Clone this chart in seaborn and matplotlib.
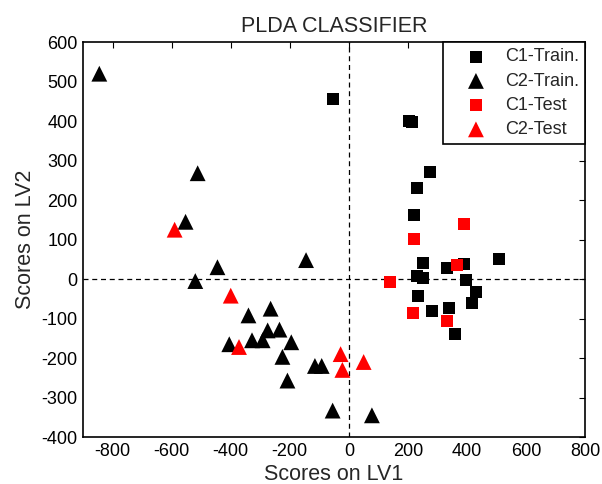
import matplotlib
matplotlib.use("Agg")
import matplotlib.pyplot as plt
import seaborn as sns
import pandas as pd

c1_train_x = [-55, 205, 213, 275, 230, 222, 250, 232, 252, 331, 390, 395, 430, 418, 233, 282, 340, 358, 507]
c1_train_y = [455, 400, 397, 270, 230, 163, 40, 8, 2, 27, 38, -3, -32, -60, -42, -80, -74, -139, 52]
c2_train_x = [-845, -512, -553, -445, -520, -145, -340, -265, -275, -235, -405, -328, -292, -195, -225, -115, -92, -208, -55, 78]
c2_train_y = [520, 268, 145, 30, -5, 48, -92, -75, -130, -128, -165, -155, -155, -160, -197, -220, -220, -257, -333, -345]
c1_test_x = [390, 222, 367, 140, 218, 331]
c1_test_y = [140, 102, 35, -7, -85, -105]
c2_test_x = [-590, -400, -372, -28, -22, 50]
c2_test_y = [125, -42, -172, -190, -230, -210]

groups = ["C1-Train.", "C2-Train.", "C1-Test", "C2-Test"]
xs = [c1_train_x, c2_train_x, c1_test_x, c2_test_x]
ys = [c1_train_y, c2_train_y, c1_test_y, c2_test_y]
colors = {"C1-Train.": "#000000", "C2-Train.": "#000000", "C1-Test": "#ff0000", "C2-Test": "#ff0000"}
markers = {"C1-Train.": "s", "C2-Train.": "^", "C1-Test": "s", "C2-Test": "^"}
sizes = {"s": 75, "^": 130}

rows = []
for g, gx, gy in zip(groups, xs, ys):
    for a, b in zip(gx, gy):
        rows.append({"LV1": a, "LV2": b, "group": g})
df = pd.DataFrame(rows)

sns.set_style("white")
plt.rcParams['font.family'] = ['Liberation Sans', 'DejaVu Sans']
plt.rcParams['axes.unicode_minus'] = False

fig = plt.figure(figsize=(6.02, 4.84), dpi=100)
ax = fig.add_axes([0.138, 0.097, 0.834, 0.816])

ax.axhline(0, color="black", ls=(0, (4, 3)), lw=0.9, zorder=1)
ax.axvline(0, color="black", ls=(0, (4, 3)), lw=0.9, zorder=1)

for g in groups:
    m = markers[g]
    sns.scatterplot(data=df[df.group == g], x="LV1", y="LV2", ax=ax,
                    color=colors[g], marker=m, s=sizes[m], edgecolor="none",
                    linewidth=0, label=g, zorder=3)

ax.set_xlim(-900, 800)
ax.set_ylim(-400, 600)
ax.set_xticks(range(-800, 801, 200))
ax.set_yticks(range(-400, 601, 100))
ax.tick_params(direction="in", length=4, width=0.8, top=True, right=True,
               labelsize=13, colors="black", pad=4)
for sp in ax.spines.values():
    sp.set_visible(True)
    sp.set_color("black")
    sp.set_linewidth(1.2)

ax.set_xlabel("Scores on LV1", fontsize=15.5, labelpad=3)
ax.set_ylabel("Scores on LV2", fontsize=15.5, labelpad=4)
ax.set_title("PLDA CLASSIFIER", fontsize=15.5, pad=7)

leg = ax.legend(loc="upper right", fontsize=13, frameon=True, fancybox=False,
                borderaxespad=0, edgecolor="black", framealpha=1,
                handlelength=3.0, handletextpad=0.1, labelspacing=0.4,
                borderpad=0.35)
leg.get_frame().set_linewidth(1.2)

fig.savefig("out.png", dpi=100)
